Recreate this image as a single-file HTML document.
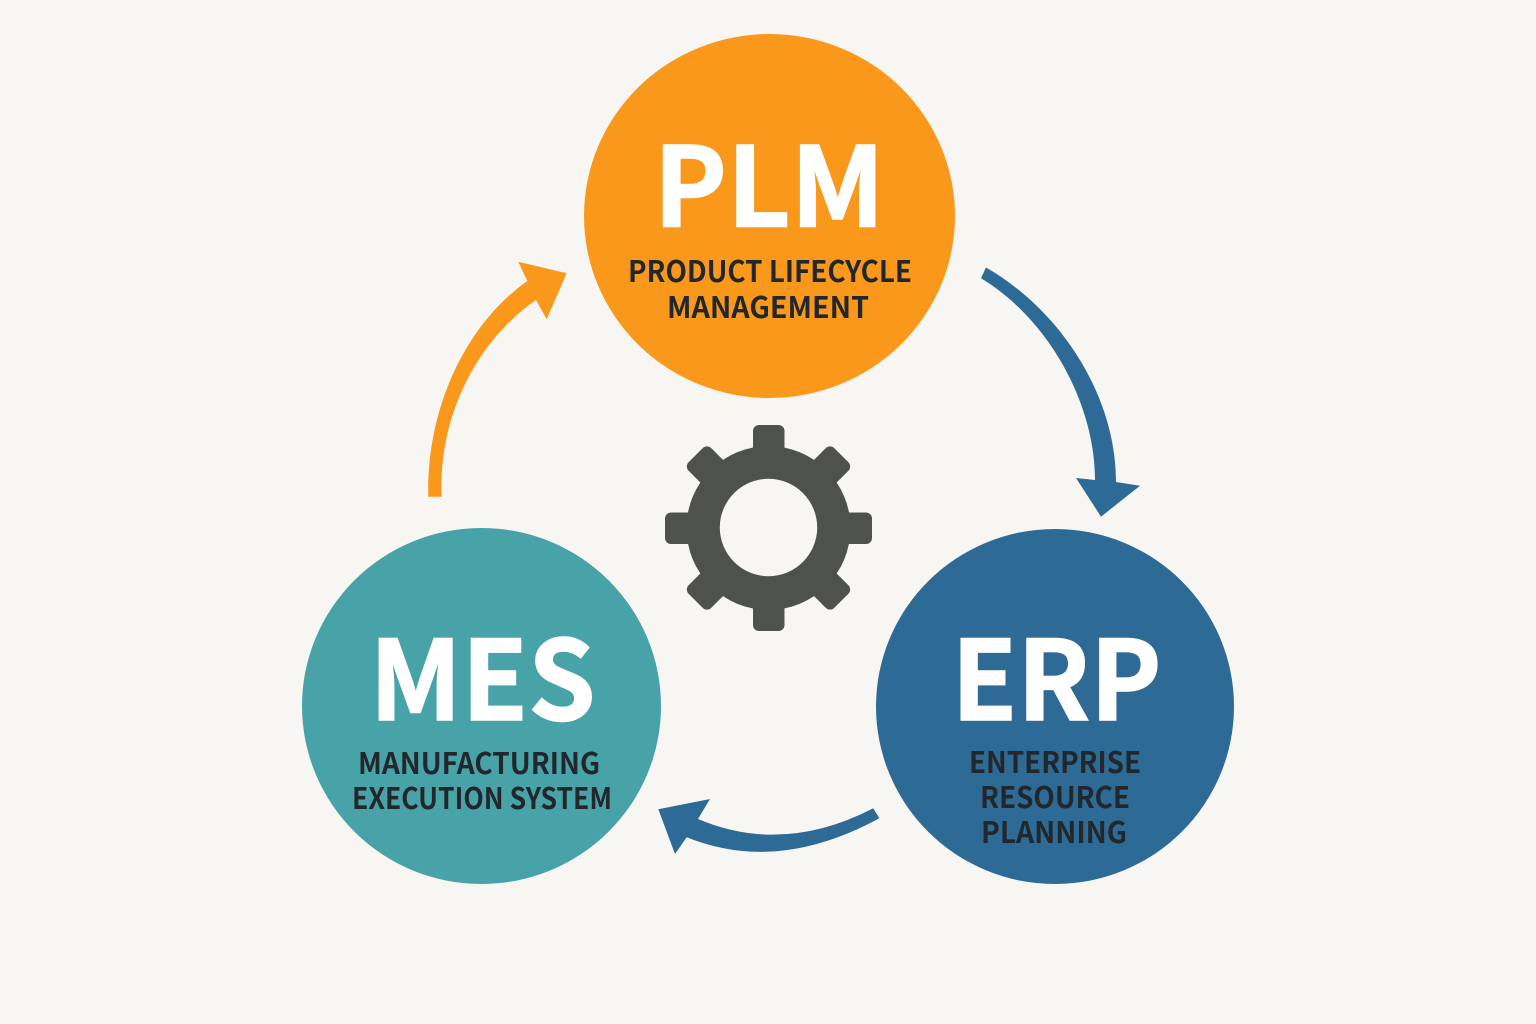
<!DOCTYPE html>
<html>
<head>
<meta charset="utf-8">
<style>
html,body{margin:0;padding:0;background:#f8f6f3;}
svg{display:block;}
text{font-family:"Noto Sans CJK JP","Liberation Sans",sans-serif;text-anchor:middle;}
.big{font-weight:700;fill:#fff;font-size:110px;stroke:#fff;stroke-width:1.500px;}
.sub{font-weight:700;fill:#22272b;font-size:29.500px;}
</style>
</head>
<body>
<svg width="1536" height="1024" viewBox="0 0 1536 1024" xmlns="http://www.w3.org/2000/svg">
<rect width="1536" height="1024" fill="#f8f6f3"/>
<ellipse cx="769.500" cy="216" rx="185.500" ry="182" fill="#fa981c"/>
<ellipse cx="481.500" cy="706" rx="179.500" ry="178" fill="#48a3a9"/>
<ellipse cx="1055" cy="706.500" rx="179" ry="177.500" fill="#2e6a96"/>

<text class="big" x="769" y="226.500" textLength="231" lengthAdjust="spacingAndGlyphs">PLM</text>
<text class="sub" x="770" y="282" textLength="284" lengthAdjust="spacingAndGlyphs">PRODUCT LIFECYCLE</text>
<text class="sub" x="768" y="318" textLength="202" lengthAdjust="spacingAndGlyphs">MANAGEMENT</text>

<text class="big" x="482.500" y="720" textLength="226" lengthAdjust="spacingAndGlyphs">MES</text>
<text class="sub" x="479" y="774" textLength="242" lengthAdjust="spacingAndGlyphs">MANUFACTURING</text>
<text class="sub" x="482" y="809" textLength="260" lengthAdjust="spacingAndGlyphs">EXECUTION SYSTEM</text>

<text class="big" x="1056.500" y="720" textLength="210" lengthAdjust="spacingAndGlyphs">ERP</text>
<text class="sub" x="1055" y="773" textLength="172" lengthAdjust="spacingAndGlyphs">ENTERPRISE</text>
<text class="sub" x="1055" y="808" textLength="150" lengthAdjust="spacingAndGlyphs">RESOURCE</text>
<text class="sub" x="1054" y="843" textLength="146" lengthAdjust="spacingAndGlyphs">PLANNING</text>

<!-- orange arrow -->
<path d="M428.300 496.700 C426 410 465 325 527.300 281 L518.300 261.700 L566.700 273.300 L546.700 319.300 L536 300 C478 340 438 415 441.700 496.700 Z" fill="#fa981c"/>
<!-- blue arrow right -->
<path d="M986 267.500 C1060 310 1116 395 1116 482 L1140 485.700 L1101 516.700 L1076 478 L1095 480 C1095 405 1050 320 981 278.300 Z" fill="#2e6a96"/>
<!-- blue arrow bottom -->
<path d="M873.300 808.300 Q783 855 698 819 L710 799 L658.300 809.300 L675 854 L686.700 837.300 Q777 874 879.300 818.300 Z" fill="#2e6a96"/>

<!-- gear -->
<g fill="#4f514e">
  <rect x="753" y="425" width="31.500" height="50" rx="6"/>
  <rect x="753" y="581" width="31.500" height="50" rx="6"/>
  <rect x="665" y="512.500" width="50" height="31.500" rx="6"/>
  <rect x="822" y="512.500" width="50" height="31.500" rx="6"/>
  <rect x="752.500" y="425" width="32" height="50" rx="6" transform="rotate(45 768.500 528)"/>
  <rect x="752.500" y="581" width="32" height="50" rx="6" transform="rotate(45 768.500 528)"/>
  <rect x="752.500" y="425" width="32" height="50" rx="6" transform="rotate(-45 768.500 528)"/>
  <rect x="752.500" y="581" width="32" height="50" rx="6" transform="rotate(-45 768.500 528)"/>
  <circle cx="768.500" cy="528" r="82"/>
</g>
<circle cx="768.500" cy="527.500" r="48.700" fill="#f8f6f3"/>
</svg>
</body>
</html>
